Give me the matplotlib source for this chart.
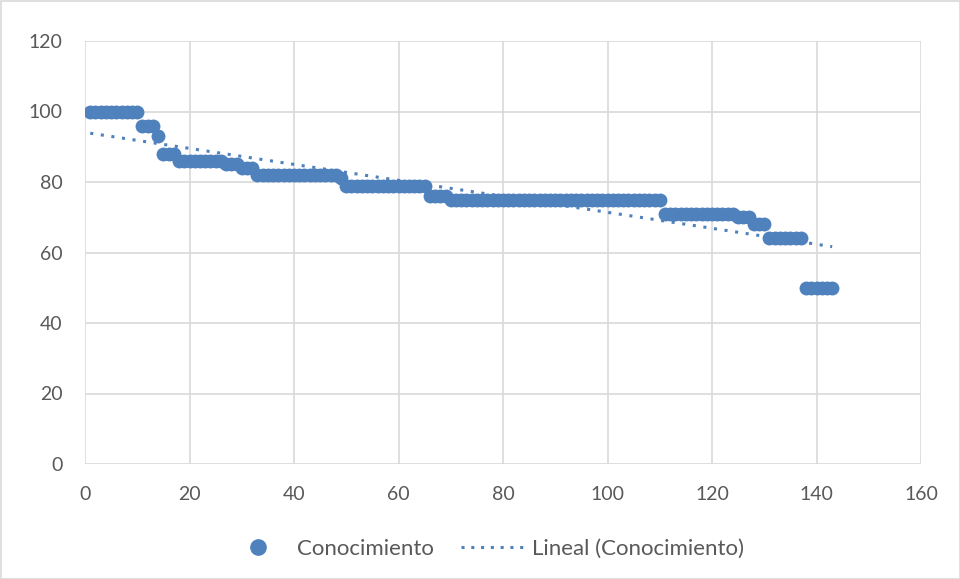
import numpy as np
import matplotlib
matplotlib.use("Agg")
import matplotlib.pyplot as plt
from matplotlib.patches import Rectangle
from matplotlib.lines import Line2D

# step segments: (value, count)
step_values = [100, 96, 93, 88, 86, 85, 84, 82, 81, 79, 76, 75, 71, 70, 68, 64, 50]
step_counts = [10, 3, 1, 3, 9, 3, 3, 16, 1, 16, 4, 41, 14, 3, 3, 7, 6]

conocimiento = np.repeat(step_values, step_counts).astype(float)
x = np.arange(1, len(conocimiento) + 1)

plt.rcParams['font.family'] = ['Lato', 'DejaVu Sans']

fig = plt.figure(figsize=(9.6, 5.79), dpi=100)
ax = fig.add_axes([85/960, 1 - 464/579, (921-85)/960, (464-41)/579])

blue = '#4F81BD'
ax.scatter(x, conocimiento, s=100, color=blue, zorder=3, linewidths=0)

coef = np.polyfit(x, conocimiento, 1)
xt = np.array([x.min(), x.max()])
ax.plot(xt, np.polyval(coef, xt), linestyle=(0, (1, 2.5)), color=blue, lw=2.2, zorder=4)

ax.set_xlim(0, 160)
ax.set_ylim(0, 120)
ax.set_xticks(np.arange(0, 161, 20))
ax.set_yticks(np.arange(0, 121, 20))
ax.grid(True, color='#D9D9D9', lw=1.2, zorder=0)
ax.set_axisbelow(True)
for s in ax.spines.values():
    s.set_visible(False)
ax.tick_params(length=0, labelsize=14, labelcolor='#595959')
ax.tick_params(axis='y', pad=16)
ax.tick_params(axis='x', pad=16)

handles = [
    Line2D([], [], marker='o', linestyle='none', color=blue, markersize=11),
    Line2D([], [], linestyle=(0, (1, 2.2)), color=blue, lw=2.2),
]
fig.legend(handles, ['Conocimiento', 'Lineal (Conocimiento)'], loc='center left',
           bbox_to_anchor=(226/960, 1 - 549/579), ncol=2, frameon=False,
           borderpad=0, borderaxespad=0, fontsize=16, labelcolor='#595959',
           handlelength=2.9, columnspacing=1.2, handletextpad=0.3)

fig.patches.append(Rectangle((0.5/960, 0.5/579), 1 - 1/960, 1 - 1/579,
                             transform=fig.transFigure, fill=False,
                             edgecolor='#D9D9D9', lw=1.2))

fig.savefig('out.png', dpi=100)
